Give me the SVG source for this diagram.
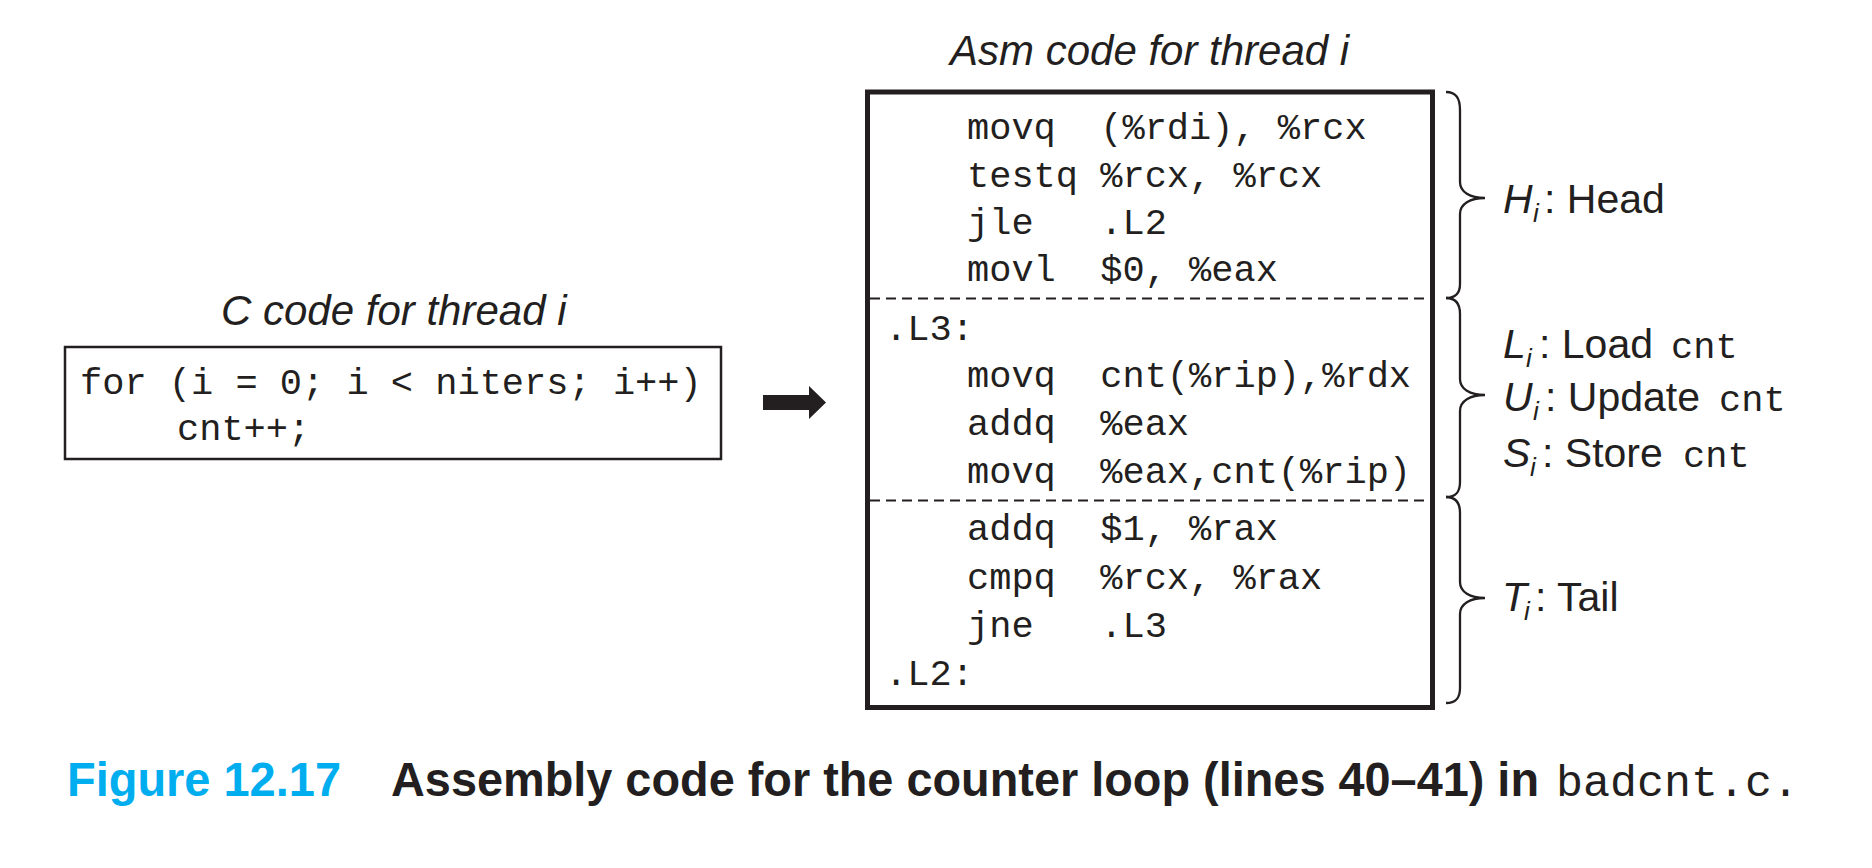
<svg xmlns="http://www.w3.org/2000/svg" width="1872" height="868" viewBox="0 0 1872 868">
<style>
.code{font-family:"Liberation Mono","Courier New",monospace;font-size:37px;fill:#231f20}
.title{font-family:"Liberation Sans",Arial,sans-serif;font-style:italic;font-size:42px;fill:#231f20}
.lbl{font-family:"Liberation Sans",Arial,sans-serif;font-size:41px;fill:#231f20}
.it{font-style:italic}
.sub{font-family:"Liberation Sans",Arial,sans-serif;font-style:italic;font-size:26px;fill:#231f20}
.brace{fill:none;stroke:#231f20;stroke-width:2.3}
.dash{stroke:#231f20;stroke-width:2;stroke-dasharray:10 6}
.cap{font-family:"Liberation Sans",Arial,sans-serif;font-weight:bold;font-size:48px}
</style>
<rect width="1872" height="868" fill="#ffffff"/>

<g id="c-code">
  <text class="title" x="221" y="325">C code for thread i</text>
  <rect x="65" y="347" width="656" height="112" fill="none" stroke="#231f20" stroke-width="2.5"/>
  <text class="code" x="80" y="394" xml:space="preserve">for (i = 0; i &lt; niters; i++)</text>
  <text class="code" x="177" y="440">cnt++;</text>
</g>

<g id="connectors">
  <polygon points="763,395 809,395 809,386 826,402.5 809,419 809,410 763,410" fill="#231f20"/>
</g>

<g id="asm-code">
  <text class="title" x="950" y="65">Asm code for thread i</text>
  <rect x="867.5" y="92" width="565" height="615.5" fill="none" stroke="#231f20" stroke-width="5"/>
  <line class="dash" x1="870" y1="298.5" x2="1430" y2="298.5"/>
  <line class="dash" x1="870" y1="500.5" x2="1430" y2="500.5"/>
  <g id="head-block">
    <text class="code" x="967" y="138.5" xml:space="preserve">movq  (%rdi), %rcx</text>
    <text class="code" x="967" y="186.5" xml:space="preserve">testq %rcx, %rcx</text>
    <text class="code" x="967" y="234" xml:space="preserve">jle   .L2</text>
    <text class="code" x="967" y="281" xml:space="preserve">movl  $0, %eax</text>
  </g>
  <g id="body-block">
    <text class="code" x="885" y="340">.L3:</text>
    <text class="code" x="967" y="386.5" xml:space="preserve">movq  cnt(%rip),%rdx</text>
    <text class="code" x="967" y="435" xml:space="preserve">addq  %eax</text>
    <text class="code" x="967" y="483" xml:space="preserve">movq  %eax,cnt(%rip)</text>
  </g>
  <g id="tail-block">
    <text class="code" x="967" y="540" xml:space="preserve">addq  $1, %rax</text>
    <text class="code" x="967" y="588.5" xml:space="preserve">cmpq  %rcx, %rax</text>
    <text class="code" x="967" y="636.5" xml:space="preserve">jne   .L3</text>
    <text class="code" x="885" y="685">.L2:</text>
  </g>
</g>

<g id="head-label">
  <path class="brace" d="M1446,92 C1456,92 1460,98 1460,110 L1460,182 C1460,192 1470,198 1485,198 C1470,198 1460,204 1460,214 L1460,284 C1460,293 1456,298 1446,298"/>
  <text class="lbl it" x="1503" y="213">H</text>
  <text class="sub" x="1533" y="222">i</text>
  <text class="lbl" x="1544" y="213">: Head</text>
</g>

<g id="body-label">
  <path class="brace" d="M1446,298 C1456,298 1460,304 1460,314 L1460,379 C1460,389 1470,395 1485,395 C1470,395 1460,401 1460,411 L1460,482 C1460,492 1456,497 1446,497"/>
  <text class="lbl it" x="1503" y="358">L</text>
  <text class="sub" x="1526" y="367">i</text>
  <text class="lbl" x="1539" y="358">: Load</text>
  <text class="code" x="1671" y="358">cnt</text>
  <text class="lbl it" x="1503" y="411">U</text>
  <text class="sub" x="1533" y="420">i</text>
  <text class="lbl" x="1545" y="411">: Update</text>
  <text class="code" x="1719" y="411">cnt</text>
  <text class="lbl it" x="1503" y="466.5">S</text>
  <text class="sub" x="1530" y="475.5">i</text>
  <text class="lbl" x="1542" y="466.5">: Store</text>
  <text class="code" x="1683" y="466.5">cnt</text>
</g>

<g id="tail-label">
  <path class="brace" d="M1446,497 C1456,497 1460,503 1460,513 L1460,582 C1460,592 1470,598 1485,598 C1470,598 1460,604 1460,614 L1460,688 C1460,698 1456,703 1446,703"/>
  <text class="lbl it" x="1502" y="610.5">T</text>
  <text class="sub" x="1524" y="619.5">i</text>
  <text class="lbl" x="1535" y="610.5">: Tail</text>
</g>

<g id="caption">
  <text class="cap" x="67" y="796" fill="#00aeef" textLength="274" lengthAdjust="spacingAndGlyphs">Figure 12.17</text>
  <text class="cap" x="391" y="796" fill="#231f20" textLength="1148" lengthAdjust="spacingAndGlyphs">Assembly code for the counter loop (lines 40–41) in</text>
  <text x="1556" y="796" font-family="Liberation Mono, Courier New, monospace" font-size="45" fill="#231f20">badcnt.c.</text>
</g>
</svg>
